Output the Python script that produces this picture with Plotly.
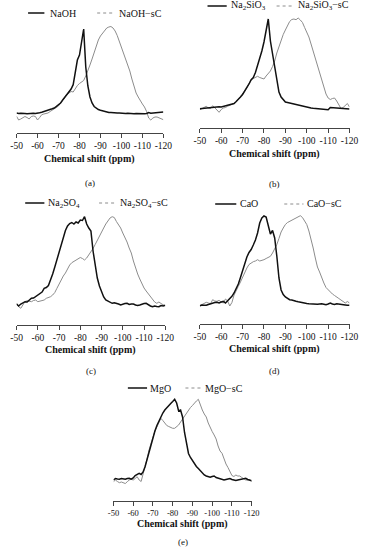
import plotly.graph_objects as go

# ---------------- data ----------------
shift_ppm = list(range(-50, -121, -1))  # chemical shift axis, -50 ... -120 ppm
tick_vals = [-50, -60, -70, -80, -90, -100, -110, -120]
tick_text = ["-50", "-60", "-70", "-80", "-90", "-100", "-110", "-120"]

# intensities (a.u.), one value per ppm from -50 to -120
naoh = [20, 19.5, 19.8, 19.3, 19.5, 19.3, 19.6, 19.4, 19.8, 19.6,
        19.7, 20.2, 20.7, 21.3, 21.8, 22.7, 23.3, 24.2, 25, 26.5,
        28, 30, 33, 35.7, 38, 40.5, 44, 48.3, 60, 73,
        78, 90, 104, 66, 47, 36, 30, 26.5, 24.5, 23.5,
        22.8, 22.2, 21.3, 21, 20.5, 20.6, 20.2, 20.3, 20, 20.1,
        19.8, 20, 19.6, 19.8, 19.5, 19.4, 19.3, 19.5, 19.3, 19.4,
        19.2, 19.3, 19.5, 20.5, 19.8, 20, 20.3, 20.1, 20.5, 20.8,
        21]
naoh_sc = [16.7, 13, 14, 15.5, 16.5, 15.5, 14, 16.5, 17, 16.5,
           13, 15.5, 18.3, 19, 19.5, 20, 21.5, 23, 24, 25.5,
           27, 30, 33, 36.5, 38.5, 40, 41.5, 41, 44.5, 47.5,
           49.5, 51, 52.5, 57, 62, 68, 74, 80.5, 87.5, 93,
           97, 100, 102.5, 105, 106, 106.5, 105, 102, 97.5, 91.7,
           86.5, 81, 75.5, 69, 62, 54, 46, 40, 36, 32,
           29, 26, 21.5, 15, 13, 15, 16, 16, 15, 14,
           13.3]
na2sio3 = [19.3, 19.5, 20, 20.3, 20, 20.5, 21, 20.7, 21, 21.3,
           21, 21.5, 22, 22.3, 23, 23.3, 24.5, 26.5, 28.3, 31,
           33.5, 36.7, 40, 44, 48.3, 50.5, 55.5, 62, 69, 77,
           86, 96, 109, 87, 74, 63, 47, 36, 31, 28,
           26, 25.5, 25, 24.3, 23.7, 23, 22.3, 22, 21.5, 21,
           20.5, 20, 20, 19.7, 19.5, 19.3, 19.3, 19, 19, 18.5,
           18.3, 20.5, 20.3, 20, 20, 19.7, 20, 19.8, 19.5, 19.3,
           19]
na2sio3_sc = [18.3, 19.5, 20.3, 21.7, 20, 19.5, 22.3, 20.5, 18, 15.7,
              18.5, 20, 20.5, 21.8, 22.5, 23.5, 24.5, 26, 28.5, 31,
              34, 37, 40.5, 44, 48, 49.5, 50.5, 51.7, 50.5, 49.5,
              49, 52, 54.5, 57, 61.5, 67, 75, 82, 88, 93.5,
              98, 102, 106.5, 108.5, 109, 108.3, 110, 108, 105.5, 100.5,
              95.5, 91, 84, 77, 69.5, 61, 53.5, 47.5, 40.5, 34,
              30, 28.5, 29.5, 30, 27, 23, 19.5, 20.5, 23, 24.5,
              21]
na2so4 = [21, 19, 21, 22, 23.3, 23, 25, 26.7, 27, 28.3,
          30, 31, 33, 36.7, 37.5, 39.5, 44.5, 51, 58, 65.5,
          74, 82, 89, 94.5, 99, 101.5, 102.5, 101, 103, 102,
          105, 104.5, 108.3, 101, 97, 94, 74, 58, 47, 39,
          33, 28, 25, 24, 22.5, 21.7, 22.3, 22, 21, 20,
          21, 21.5, 21.7, 20.5, 21, 21, 20, 19.5, 20, 21,
          21.5, 21.7, 20, 19, 18.3, 19, 18.5, 18.3, 19.5, 19,
          19.7]
na2so4_sc = [21.7, 18.3, 16.7, 20.5, 23.5, 24.3, 23.8, 23.3, 24.5, 25,
             23.3, 24, 24.5, 25, 26.7, 27.5, 28.3, 30, 32.5, 36.7,
             41, 45, 49, 52, 56, 60, 62.3, 63.5, 65, 66.7,
             67.5, 66.5, 65, 67, 70, 73.3, 76.5, 80.5, 85, 89,
             93.3, 97, 101, 104, 107, 108.3, 107.5, 103.5, 100, 97,
             92, 88, 83, 77, 72, 64, 57, 51, 46, 41,
             37, 34, 31, 28, 25, 23, 21.7, 23, 21.5, 20,
             19]
cao = [18.3, 19, 18.7, 18.7, 19.5, 20.3, 21, 21.5, 21.7, 21,
       22, 22.7, 21, 23, 25, 27.7, 31, 35, 40, 46.5,
       54, 61.5, 67, 71.5, 74.5, 79, 84, 91, 101, 106,
       108, 107, 98, 90, 93.5, 86, 68, 46, 34, 29.5,
       27, 25.3, 24.3, 24, 23, 22.7, 22.2, 21.7, 21, 20.8,
       20.5, 20.3, 20, 19.7, 19.3, 19.7, 20, 20.3, 19.8, 19.3,
       20, 21, 20, 19.5, 20.3, 19.8, 19.5, 19.3, 19, 18.7,
       18.7]
cao_sc = [18.3, 19.5, 20.5, 21.7, 21, 20.3, 24.3, 23, 22.7, 23.7,
          22, 21, 25, 23, 18, 21.5, 29, 34, 37.7, 42,
          47, 51, 56, 59.5, 61, 62.3, 63, 64.3, 63, 63.5,
          64.3, 65.5, 66.5, 67.7, 71, 75, 79.5, 85.5, 92, 96,
          99.5, 101.5, 102.7, 104, 105.3, 106, 107, 108.3, 106.5, 103,
          99.5, 93, 85, 76, 66, 57, 52, 45.5, 41, 36.5,
          34, 32, 30, 28.5, 27.3, 25.5, 24, 22.5, 21, 22.5,
          21]
mgo = [21, 22.5, 22, 21.7, 22.5, 22.2, 21.7, 22.5, 22.7, 21.8,
       23, 25.5, 26.5, 27.7, 26.5, 29, 34.3, 42, 48.5, 56,
       64.3, 70, 75.5, 80, 84, 88, 91, 93.5, 95.5, 97.5,
       99.5, 101.7, 98, 90, 91, 84, 68.5, 55.5, 47.5, 43.5,
       40, 36.5, 34.5, 32.5, 30, 28, 26, 25, 24.3, 23.7,
       24.5, 25, 23.5, 22.7, 21.8, 21.3, 21, 21.5, 22, 22.5,
       21.5, 21, 20.5, 21, 21.5, 21.8, 22.2, 22.7, 21.5, 21,
       20.3]
mgo_sc = [19.3, 21, 19.5, 18.3, 19, 18, 17.5, 19.3, 21, 21.7,
          21, 22.5, 24.3, 21, 19.5, 27, 34, 42, 51, 58,
          64.3, 70, 74, 78.5, 82.7, 80.5, 77.5, 75.5, 74.5, 73.5,
          72.7, 72.7, 74, 76, 79, 82, 85, 88.5, 91.5, 93.5,
          95.5, 98, 100, 101.7, 96, 91, 87, 84, 78, 73,
          69.5, 66, 62, 55, 50, 47.7, 42, 37, 33.5, 29.5,
          25.5, 24.5, 26, 25, 25, 23.5, 22.5, 21, 21, 21.5,
          19.3]

sample_names = ["NaOH", "Na<sub>2</sub>SiO<sub>3</sub>", "Na<sub>2</sub>SO<sub>4</sub>", "CaO", "MgO"]
panel_labels = ["(a)", "(b)", "(c)", "(d)", "(e)"]
series_plain = [naoh, na2sio3, na2so4, cao, mgo]
series_sc = [naoh_sc, na2sio3_sc, na2so4_sc, cao_sc, mgo_sc]

# ---------------- layout geometry (pixels) ----------------
W, H = 371, 550
def fx(px):
    return px / W
def fy(py):
    return 1 - py / H

geo = [
    dict(l=11, r=164, axis=133, top=18, ly=13, lb=(23, 40), lbt=44, lg=(95, 113), lgt=116, ty=159, cy=183, tf=9.5),
    dict(l=202, r=358, axis=128, top=13, ly=6, lb=(210, 230), lbt=232, lg=(282, 300), lgt=302, ty=154, cy=184, tf=9.5),
    dict(l=11, r=166, axis=325, top=210, ly=203, lb=(20, 40), lbt=42, lg=(97, 115), lgt=117, ty=350, cy=371, tf=9.5),
    dict(l=202, r=358, axis=324, top=209, ly=204, lb=(218, 240), lbt=242, lg=(290, 310), lgt=312, ty=349, cy=371, tf=9.5),
    dict(l=112, r=256, axis=501, top=386, ly=388, lb=(127, 147), lbt=148, lg=(187, 203), lgt=205, ty=524, cy=542, tf=8.5),
]

BLACK = "#111111"
GRAY = "#8c8c8c"
SERIF = "Liberation Serif"

fig = go.Figure()
layout = dict(
    width=W, height=H, margin=dict(l=0, r=0, t=0, b=0),
    paper_bgcolor="white", plot_bgcolor="white", showlegend=False,
    font=dict(family=SERIF, color=BLACK),
)
shapes, annotations = [], []

for i, g in enumerate(geo):
    idx = "" if i == 0 else str(i + 1)
    fig.add_trace(go.Scatter(x=shift_ppm, y=series_sc[i], mode="lines",
                             line=dict(color=GRAY, width=1), name=sample_names[i] + "−sC",
                             xaxis="x" + idx, yaxis="y" + idx))
    fig.add_trace(go.Scatter(x=shift_ppm, y=series_plain[i], mode="lines",
                             line=dict(color=BLACK, width=1.5), name=sample_names[i],
                             xaxis="x" + idx, yaxis="y" + idx))
    layout["xaxis" + idx] = dict(
        domain=[fx(g["l"]), fx(g["r"])], range=[-50, -120], anchor="y" + idx,
        tickvals=tick_vals, ticktext=tick_text, ticks="outside", ticklen=4,
        tickwidth=1, tickcolor="#444", showline=True, linecolor="#444", linewidth=1,
        showgrid=False, zeroline=False, tickangle=0,
        tickfont=dict(family=SERIF, size=g["tf"], color=BLACK),
    )
    layout["yaxis" + idx] = dict(
        domain=[fy(g["axis"]), fy(g["top"])], range=[0, g["axis"] - g["top"]],
        anchor="x" + idx, visible=False, showgrid=False, zeroline=False,
    )
    # legend samples
    shapes.append(dict(type="line", xref="paper", yref="paper",
                       x0=fx(g["lb"][0]), x1=fx(g["lb"][1]), y0=fy(g["ly"]), y1=fy(g["ly"]),
                       line=dict(color=BLACK, width=1.5)))
    shapes.append(dict(type="line", xref="paper", yref="paper",
                       x0=fx(g["lg"][0]), x1=fx(g["lg"][1]), y0=fy(g["ly"]), y1=fy(g["ly"]),
                       line=dict(color=GRAY, width=1, dash="dot")))
    annotations.append(dict(text=sample_names[i], xref="paper", yref="paper",
                            x=fx(g["lbt"]), y=fy(g["ly"]), xanchor="left", yanchor="middle",
                            showarrow=False, font=dict(family=SERIF, size=10, color=BLACK)))
    annotations.append(dict(text=sample_names[i] + "−sC", xref="paper", yref="paper",
                            x=fx(g["lgt"]), y=fy(g["ly"]), xanchor="left", yanchor="middle",
                            showarrow=False, font=dict(family=SERIF, size=10, color=BLACK)))
    # axis title
    annotations.append(dict(text="<b>Chemical shift (ppm)</b>", xref="paper", yref="paper",
                            x=fx((g["l"] + g["r"]) / 2), y=fy(g["ty"]), xanchor="center", yanchor="middle",
                            showarrow=False, font=dict(family=SERIF, size=10, color=BLACK)))
    # panel caption
    annotations.append(dict(text=panel_labels[i], xref="paper", yref="paper",
                            x=fx((g["l"] + g["r"]) / 2), y=fy(g["cy"]), xanchor="center", yanchor="middle",
                            showarrow=False, font=dict(family=SERIF, size=9, color=BLACK)))

layout["shapes"] = shapes
layout["annotations"] = annotations
fig.update_layout(**layout)
fig.write_html(
    "out.html",
    config={"displayModeBar": False},
    post_script="document.body.style.margin='0';document.body.style.overflow='hidden';",
)
